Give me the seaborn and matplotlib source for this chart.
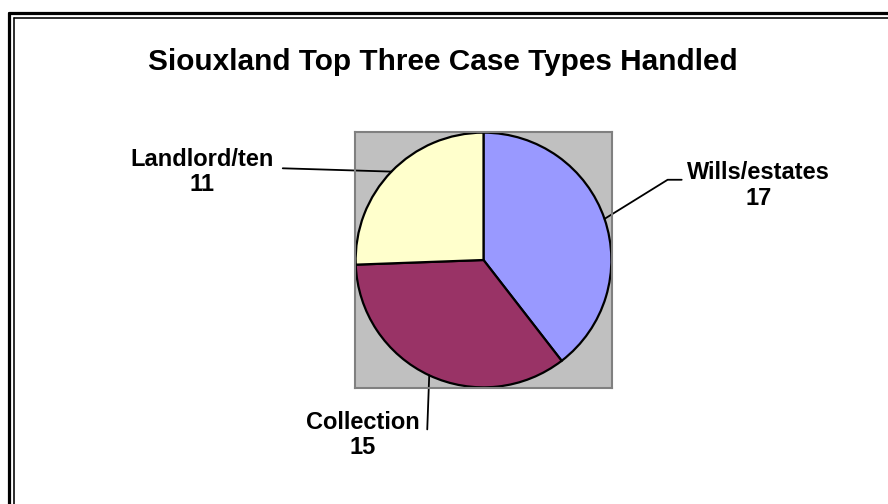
import numpy as np
import matplotlib
matplotlib.use('Agg')
import matplotlib.pyplot as plt
import seaborn as sb

sb.set_style('white')
plt.rcParams['font.family'] = ['Liberation Sans', 'DejaVu Sans']

# data
case_types = ['Wills/estates', 'Collection', 'Landlord/ten']
case_counts = [17, 15, 11]
slice_colors = ['#9999FF', '#993366', '#FFFFCC']

fig = plt.figure(figsize=(8.88, 5.04), dpi=100)
fig.patch.set_facecolor('white')

# double frame (only top and left show in the crop)
W, H = 888, 504
for x, y, lw in [(8.5, 12.5, 3.2), (13.5, 17.5, 1.6)]:
    fig.add_artist(plt.Line2D([x / W, x / W], [1 - y / H, -0.1], color='black', lw=lw * 0.72))
    fig.add_artist(plt.Line2D([x / W, 1.1], [1 - y / H, 1 - y / H], color='black', lw=lw * 0.72))

fig.text(443 / W, 1 - 62 / H, 'Siouxland Top Three Case Types Handled',
         ha='center', va='center', fontsize=21.4, fontweight='bold', color='black')

# plot area: grey square behind the pie
ax = fig.add_axes([355 / W, 1 - 388 / H, 257 / W, 256 / H])
wedges, _ = ax.pie(case_counts, colors=slice_colors, startangle=90, counterclock=False,
                   radius=1.0, frame=True, wedgeprops=dict(edgecolor='black', linewidth=1.6))
ax.set_facecolor('#C0C0C0')
for s in ax.spines.values():
    s.set_visible(True)
    s.set_color('#808080')
    s.set_linewidth(1.5)
ax.set_xlim(-1.005, 1.005)
ax.set_ylim(-1.005, 1.005)
ax.set_aspect('auto')
ax.set_xticks([])
ax.set_yticks([])

# leader lines and labels (elbow and text spots in data units)
elbows = [[(1.44, 0.63), (1.55, 0.63)], [(-0.44, -1.33)], [(-1.57, 0.72)]]
text_pos = [(2.15, 0.586), (-0.945, -1.375), (-2.2, 0.69)]
for w, name, n, pts, tp in zip(wedges, case_types, case_counts, elbows, text_pos):
    ang = np.deg2rad((w.theta1 + w.theta2) / 2)
    xs = [np.cos(ang)] + [p[0] for p in pts]
    ys = [np.sin(ang)] + [p[1] for p in pts]
    ax.plot(xs, ys, color='black', lw=1.3, clip_on=False)
    ax.text(tp[0], tp[1], f'{name}\n{n}', ha='center', va='center', fontsize=17,
            fontweight='bold', linespacing=1.15, color='black', clip_on=False)

fig.savefig('out.png', dpi=100)
